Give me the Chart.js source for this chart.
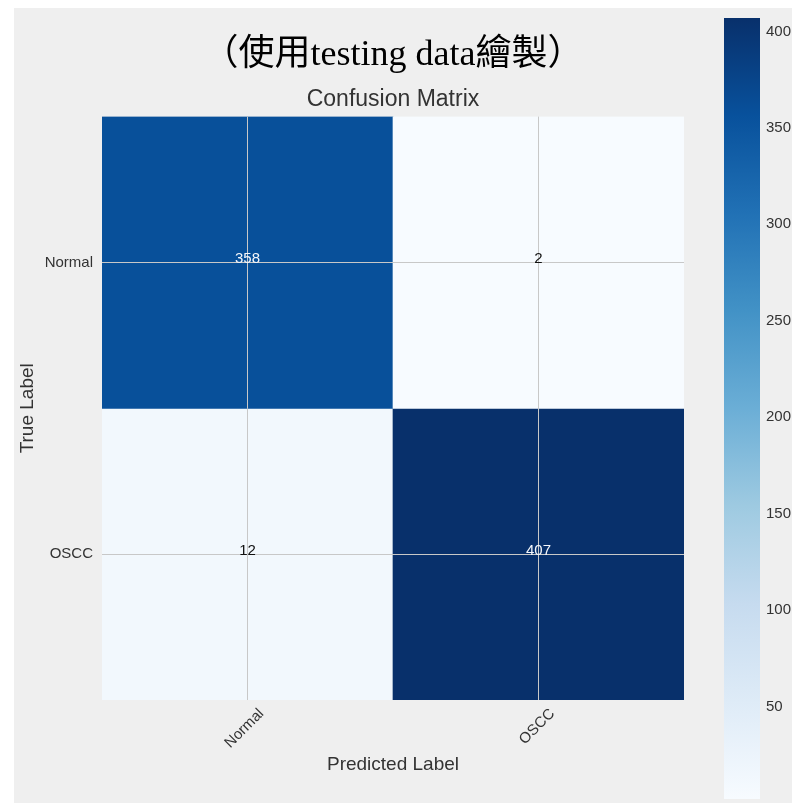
<!DOCTYPE html>
<html>
<head>
<meta charset="utf-8">
<script src="https://cdn.jsdelivr.net/npm/chart.js@4/dist/chart.umd.min.js"></script>
<style>
  html, body { margin: 0; padding: 0; background: #ffffff; width: 792px; height: 803px; overflow: hidden; }
  #cm { position: absolute; left: 14px; top: 8px; background: #efefef; }
  #cb { position: absolute; left: 718px; top: 8px; background: #efefef; }
</style>
</head>
<body>
<canvas id="cm" width="704" height="795"></canvas>
<canvas id="cb" width="74" height="795"></canvas>
<script>
// Class names (rows = true label, columns = predicted label)
const trueLabels = ['Normal', 'OSCC'];
const predLabels = ['Normal', 'OSCC'];

// Counts per true-label row
const countsNormal = [358, 2];
const countsOSCC = [12, 407];

// Colour bar tick values
const colorbarTicks = [50, 100, 150, 200, 250, 300, 350, 400];

const rows = [countsNormal, countsOSCC];
const allCounts = rows.flat();
const vmin = Math.min(...allCounts);
const vmax = Math.max(...allCounts);
const thresh = vmax / 2;

// "Blues" sequential palette
const BLUES = ['#f7fbff', '#deebf7', '#c6dbef', '#9ecae1', '#6baed6', '#4292c6', '#2171b5', '#08519c', '#08306b'];

function hexToRgb(h) {
  const n = parseInt(h.slice(1), 16);
  return [(n >> 16) & 255, (n >> 8) & 255, n & 255];
}
function blues(v) {
  const t = Math.min(1, Math.max(0, (v - vmin) / (vmax - vmin)));
  const pos = t * (BLUES.length - 1);
  const i = Math.min(BLUES.length - 2, Math.floor(pos));
  const f = pos - i;
  const a = hexToRgb(BLUES[i]), b = hexToRgb(BLUES[i + 1]);
  const c = a.map((x, k) => Math.round(x + (b[k] - x) * f));
  return `rgb(${c[0]},${c[1]},${c[2]})`;
}

const SANS = '"Liberation Sans", Arial, Helvetica, sans-serif';
const TEXT = '#333333';
const GRID = '#c8c8c8';
Chart.defaults.font.family = SANS;

// Writes each count in its cell, light text on dark cells
const cellText = {
  id: 'cellText',
  afterDraw(chart) {
    const { ctx, scales: { x, y } } = chart;
    ctx.save();
    ctx.font = '15px ' + SANS;
    ctx.textAlign = 'center';
    ctx.textBaseline = 'alphabetic';
    rows.forEach((row, r) => {
      row.forEach((v, c) => {
        ctx.fillStyle = v > thresh ? '#f4f6fa' : '#111111';
        ctx.fillText(String(v), x.getPixelForValue(c), y.getPixelForValue(r) + 0.5);
      });
    });
    ctx.restore();
  }
};

new Chart(document.getElementById('cm'), {
  type: 'bar',
  data: {
    labels: predLabels,
    datasets: rows.map((row, r) => ({
      label: trueLabels[r],
      data: row.map(() => [r - 0.5, r + 0.5]),
      backgroundColor: row.map(v => blues(v)),
      borderWidth: 0,
      barPercentage: 1,
      categoryPercentage: 1,
      grouped: false
    }))
  },
  options: {
    responsive: false,
    animation: false,
    layout: { padding: { left: 0, right: 34, top: 0, bottom: 0 } },
    plugins: {
      legend: { display: false },
      tooltip: { enabled: false },
      title: {
        display: true,
        text: '（使用testing data繪製）',
        fullSize: false,
        color: '#000000',
        font: { family: '"Liberation Serif", "Times New Roman", "Noto Sans CJK TC", serif', size: 36, weight: 'normal' },
        padding: { top: 26.4, bottom: 0 }
      },
      subtitle: {
        display: true,
        text: 'Confusion Matrix',
        fullSize: false,
        color: TEXT,
        font: { family: SANS, size: 23, weight: 'normal' },
        padding: { top: 8.1, bottom: 3.3 }
      }
    },
    scales: {
      x: {
        type: 'category',
        offset: true,
        grid: { offset: false, color: GRID, lineWidth: 1, drawTicks: false, z: 1 },
        border: { display: false },
        ticks: { minRotation: 45, maxRotation: 45, padding: 5, labelOffset: 14, color: TEXT, font: { size: 15 } },
        title: { display: true, text: 'Predicted Label', color: TEXT, font: { size: 19 }, padding: { top: 0, bottom: 26.6 } },
        afterFit(s) { s.height = 103; }
      },
      y: {
        type: 'linear',
        min: -0.5,
        max: 1.5,
        reverse: true,
        grid: { color: GRID, lineWidth: 1, drawTicks: false, z: 1 },
        border: { display: false },
        afterBuildTicks(s) { s.ticks = trueLabels.map((_, i) => ({ value: i })); },
        ticks: { padding: 9, color: TEXT, font: { size: 15 }, callback: v => trueLabels[v] },
        title: { display: true, text: 'True Label', color: TEXT, font: { size: 19 }, padding: { top: 2, bottom: 0 } },
        afterFit(s) { s.width = 88; }
      }
    }
  },
  plugins: [cellText]
});

// Colour bar: one floating bar spanning the data range, filled with the palette
new Chart(document.getElementById('cb'), {
  type: 'bar',
  data: {
    labels: [''],
    datasets: [{
      data: [[vmin, vmax]],
      borderWidth: 0,
      barPercentage: 1,
      categoryPercentage: 1,
      backgroundColor(ctx) {
        const area = ctx.chart.chartArea;
        if (!area) return BLUES[4];
        const g = ctx.chart.ctx.createLinearGradient(0, area.bottom, 0, area.top);
        BLUES.forEach((c, i) => g.addColorStop(i / (BLUES.length - 1), c));
        return g;
      }
    }]
  },
  options: {
    responsive: false,
    animation: false,
    layout: { padding: { left: 6, right: 0, top: 10, bottom: 4 } },
    plugins: { legend: { display: false }, tooltip: { enabled: false } },
    scales: {
      x: { display: false },
      y: {
        position: 'right',
        min: vmin,
        max: vmax,
        grid: { display: false, drawTicks: false },
        border: { display: false },
        afterBuildTicks(s) { s.ticks = colorbarTicks.map(v => ({ value: v })); },
        ticks: { padding: 6, color: TEXT, font: { size: 15 } },
        afterFit(s) { s.width = 32; s.paddingTop = 0; s.paddingBottom = 0; }
      }
    }
  }
});
</script>
</body>
</html>
